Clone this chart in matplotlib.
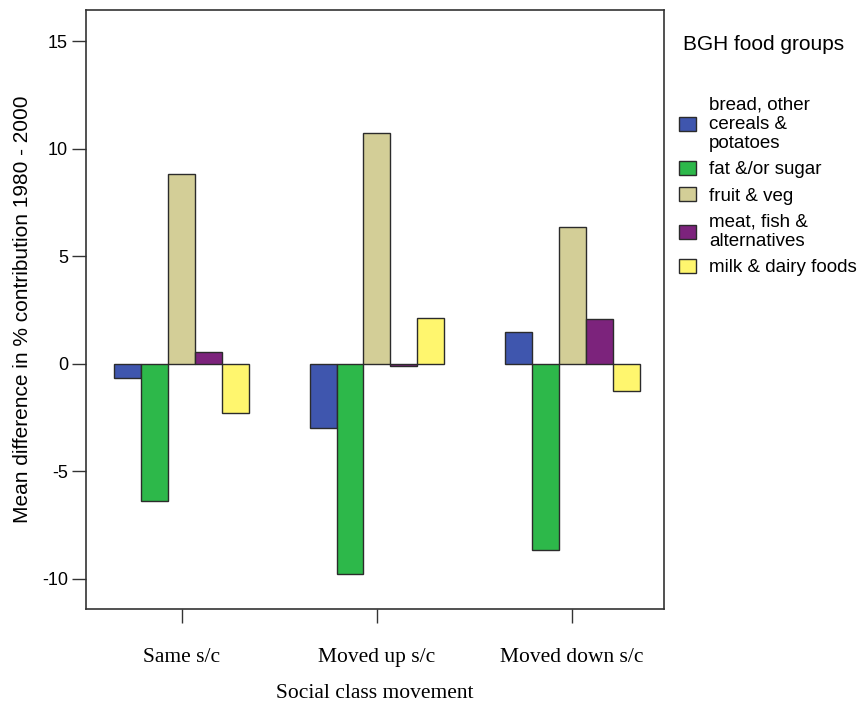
import matplotlib.pyplot as plt
import numpy as np

# data
groups = ["Same s/c", "Moved up s/c", "Moved down s/c"]
food_groups = [
    "bread, other\ncereals &\npotatoes",
    "fat &/or sugar",
    "fruit & veg",
    "meat, fish &\nalternatives",
    "milk & dairy foods",
]
bread = [-0.66, -2.99, 1.47]
fat_sugar = [-6.40, -9.77, -8.67]
fruit_veg = [8.83, 10.75, 6.37]
meat_fish = [0.53, -0.09, 2.09]
milk_dairy = [-2.29, 2.12, -1.25]
yticks = [-10, -5, 0, 5, 10, 15]

series = [bread, fat_sugar, fruit_veg, meat_fish, milk_dairy]
colors = ["#3F56AE", "#2DB84A", "#D3CE97", "#7C237C", "#FFF66E"]

fig = plt.figure(figsize=(8.59, 7.05), dpi=100)
ax = fig.add_axes([86 / 859, 1 - 609 / 705, (664 - 86) / 859, (609 - 10) / 705])

x = np.arange(len(groups))
width = 0.138
for i, (vals, col, lab) in enumerate(zip(series, colors, food_groups)):
    ax.bar(
        x + (i - 2) * width,
        vals,
        width,
        color=col,
        edgecolor="#2b2b2b",
        linewidth=1.0,
        label=lab,
    )

ax.set_xlim(-0.49, 2.47)
ax.set_ylim(-11.4, 16.45)
ax.set_yticks(yticks)
ax.set_yticklabels([str(v) for v in yticks], fontsize=13, family="Liberation Sans")
ax.set_xticks(x)
ax.set_xticklabels(groups, fontsize=15.5, family="Liberation Serif")
ax.tick_params(axis="x", direction="out", length=10, width=1, pad=18, color="#333333")
ax.tick_params(axis="y", direction="out", length=10, width=1, pad=3, color="#333333")

for s in ax.spines.values():
    s.set_color("#333333")
    s.set_linewidth(1.2)

ax.set_ylabel(
    "Mean difference in % contribution 1980 - 2000",
    fontsize=15,
    family="Liberation Sans",
    labelpad=7,
)
ax.set_xlabel("Social class movement", fontsize=15.5, family="Liberation Serif", labelpad=12)

# legend title and entries
fig.text(683 / 859, 1 - 45 / 705, "BGH food groups", fontsize=15,
         family="Liberation Sans", va="center", ha="left")
leg = ax.legend(
    loc="upper left",
    bbox_to_anchor=(679 / 859, 1 - 96 / 705),
    bbox_transform=fig.transFigure,
    frameon=False,
    prop={"family": "Liberation Sans", "size": 13.5},
    borderpad=0,
    borderaxespad=0,
    handlelength=0.9,
    handleheight=0.75,
    handletextpad=0.7,
    labelspacing=0.47,
)
for t in leg.get_texts():
    t.set_linespacing(1.2)

plt.savefig("out.png", dpi=100)
